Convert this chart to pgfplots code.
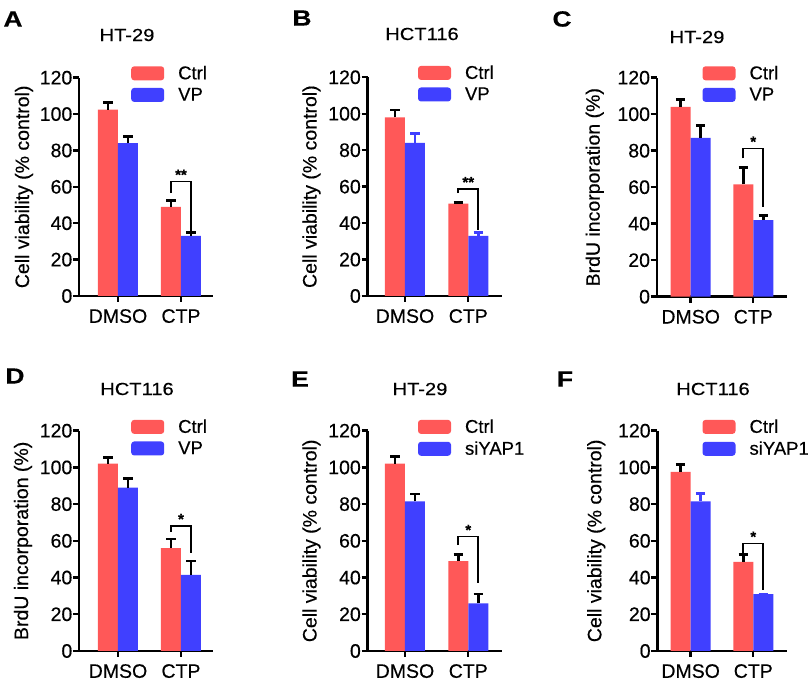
\documentclass[border=0pt]{standalone}
\usepackage{pgfplots}
\pgfplotsset{compat=1.18}
\usepackage{pgfplotstable}
\usepackage{fontspec}
\setmainfont{Liberation Sans}[FakeBold=0.35]
\usepackage{graphicx}
\definecolor{cred}{RGB}{255,88,88}
\definecolor{cblue}{RGB}{64,64,255}

\pgfplotstableread{
x c ce v ve
0 102.5 4 84 3.5
1 49 3.5 33 2
}\dataA
\pgfplotstableread{
x c ce v ve
0 98 4 84 5
1 50.7 0.5 33 2
}\dataB
\pgfplotstableread{
x c ce v ve
0 104 4 87 7
1 61.5 9.5 42 2.5
}\dataC
\pgfplotstableread{
x c ce v ve
0 102 3.5 89 5
1 56 5 41.5 7.5
}\dataD
\pgfplotstableread{
x c ce v ve
0 102 4 81.5 4
1 49 3.5 26 5
}\dataE
\pgfplotstableread{
x c ce v ve
0 97.5 4 81.5 4.5
1 48.5 4 31 0
}\dataF

\pgfplotsset{
 panel/.style={
  scale only axis, clip=false,
  ymin=0, ymax=120, ytick={0,20,...,120},
  xtick={0,1}, xticklabels={DMSO,CTP},
  axis x line*=bottom, axis y line*=left,
  xtick pos=bottom, ytick pos=left,
  axis line style={line width=2.4pt,-},
  tick style={black,line width=2.4pt},
  major tick length=6pt, tick align=outside,
  /pgf/number format/assume math mode=true,
  tick label style={font=\fontsize{19.5}{21}\selectfont},
  yticklabel style={inner xsep=0.5pt},
  xticklabel style={inner ysep=2pt, yshift=-5pt},
  ybar=0pt, bar width=20pt,
  legend style={draw=none, fill=none, font=\fontsize{18.5}{20}\selectfont, anchor=north west, row sep=7pt, column sep=14pt, inner sep=0pt, nodes={inner sep=0pt}},
  legend cell align=left,
  legend image code/.code={\fill[rounded corners=3pt] (0pt,-7pt) rectangle (33pt,7pt);},
 },
 ylab/.style 2 args={ylabel={#2}, ylabel style={font=\fontsize{19.5}{22}\selectfont, at={([xshift=-#1pt]axis description cs:0,0.5)}, anchor=center}},
 ctrl/.style={fill=cred, draw=none, error bars/.cd, y dir=plus, y explicit, error bar style={line width=2.5pt, draw=black}, error mark options={rotate=90, mark size=4.7pt, line width=2.8pt, draw=black}},
 vp/.style={fill=cblue, draw=none, error bars/.cd, y dir=plus, y explicit, error bar style={line width=2.5pt, draw=#1}, error mark options={rotate=90, mark size=4.7pt, line width=2.8pt, draw=#1}},
}
\newcommand{\sig}[4]{% top, left leg, right leg, stars
 \draw[line width=1.6pt] ([xshift=-10pt]axis cs:1,#2) -- ([xshift=-10pt]axis cs:1,#1) -- ([xshift=10pt]axis cs:1,#1) -- ([xshift=10pt]axis cs:1,#3);
 \node[anchor=base, inner sep=0pt, font=\bfseries\fontsize{15}{16}\selectfont] at ([yshift=1.5pt]axis cs:1,#1) {#4};
}
\newcommand{\ttl}[1]{\scalebox{1.15}[1]{\fontsize{17.5}{19}\selectfont #1}}
\newcommand{\lbl}[1]{\scalebox{1.2}[1]{\bfseries\fontsize{22}{24}\selectfont #1}}

\begin{document}
\begin{tikzpicture}[x=1pt,y=1pt]
\fill[white] (0,0) rectangle (812,684);
\useasboundingbox (0,0) rectangle (812,684);

% Panel letters and titles
\node at (13,665) {\lbl{A}};
\node at (302,666) {\lbl{B}};
\node at (562,665) {\lbl{C}};
\node at (15,308) {\lbl{D}};
\node at (300,305) {\lbl{E}};
\node at (565,305) {\lbl{F}};
\node at (127,649) {\ttl{HT-29}};
\node at (422,650) {\ttl{HCT116}};
\node at (697,647) {\ttl{HT-29}};
\node at (137,295) {\ttl{HCT116}};
\node at (420,295) {\ttl{HT-29}};
\node at (713,295) {\ttl{HCT116}};

% A
\begin{axis}[panel, at={(79pt,388pt)}, anchor=south west, width=134pt, height=218.3pt,
  xmin=-0.619, xmax=1.508, ylab={55}{Cell viability (\% control)},
  legend style={at={(axis description cs:0.388,1.055)}}]
\addplot[ctrl] table[x=x,y=c,y error=ce]{\dataA};
\addplot[vp=black] table[x=x,y=v,y error=ve]{\dataA};
\legend{Ctrl,VP}
\sig{63}{56.6}{34.6}{**}
\end{axis}

% B
\begin{axis}[panel, at={(367.5pt,388pt)}, anchor=south west, width=134.2pt, height=218.7pt,
  xmin=-0.592, xmax=1.528, ylab={56}{Cell viability (\% control)},
  legend style={at={(axis description cs:0.375,1.055)}}]
\addplot[ctrl] table[x=x,y=c,y error=ce]{\dataB};
\addplot[vp=cblue] table[x=x,y=v,y error=ve]{\dataB};
\legend{Ctrl,VP}
\sig{58.8}{56.4}{36.3}{**}
\end{axis}

% C
\begin{axis}[panel, at={(656.7pt,387.3pt)}, anchor=south west, width=130pt, height=219pt,
  xmin=-0.543, xmax=1.534, ylab={62}{BrdU incorporation (\%)},
  legend style={at={(axis description cs:0.351,1.055)}}]
\addplot[ctrl] table[x=x,y=c,y error=ce]{\dataC};
\addplot[vp=black] table[x=x,y=v,y error=ve]{\dataC};
\legend{Ctrl,VP}
\sig{81.3}{75.8}{49.3}{*}
\end{axis}

% D
\begin{axis}[panel, at={(79pt,33pt)}, anchor=south west, width=134pt, height=220.3pt,
  xmin=-0.619, xmax=1.508, ylab={56}{BrdU incorporation (\%)},
  legend style={at={(axis description cs:0.388,1.052)}}]
\addplot[ctrl] table[x=x,y=c,y error=ce]{\dataD};
\addplot[vp=black] table[x=x,y=v,y error=ve]{\dataD};
\legend{Ctrl,VP}
\sig{68.2}{65}{53.2}{*}
\end{axis}

% E
\begin{axis}[panel, at={(367.5pt,33pt)}, anchor=south west, width=134.2pt, height=220.3pt,
  xmin=-0.592, xmax=1.528, ylab={56}{Cell viability (\% control)},
  legend style={at={(axis description cs:0.375,1.052)}}]
\addplot[ctrl] table[x=x,y=c,y error=ce]{\dataE};
\addplot[vp=black] table[x=x,y=v,y error=ve]{\dataE};
\legend{Ctrl,siYAP1}
\sig{62.3}{57.7}{36.9}{*}
\end{axis}

% F
\begin{axis}[panel, at={(657.3pt,33pt)}, anchor=south west, width=129.4pt, height=220.3pt,
  xmin=-0.533, xmax=1.534, ylab={61}{Cell viability (\% control)},
  legend style={at={(axis description cs:0.348,1.052)}}]
\addplot[ctrl] table[x=x,y=c,y error=ce]{\dataF};
\addplot[vp=cblue] table[x=x,y=v,y error=ve]{\dataF};
\legend{Ctrl,siYAP1}
\sig{58.6}{53.2}{33.2}{*}
\end{axis}
\end{tikzpicture}
\end{document}
